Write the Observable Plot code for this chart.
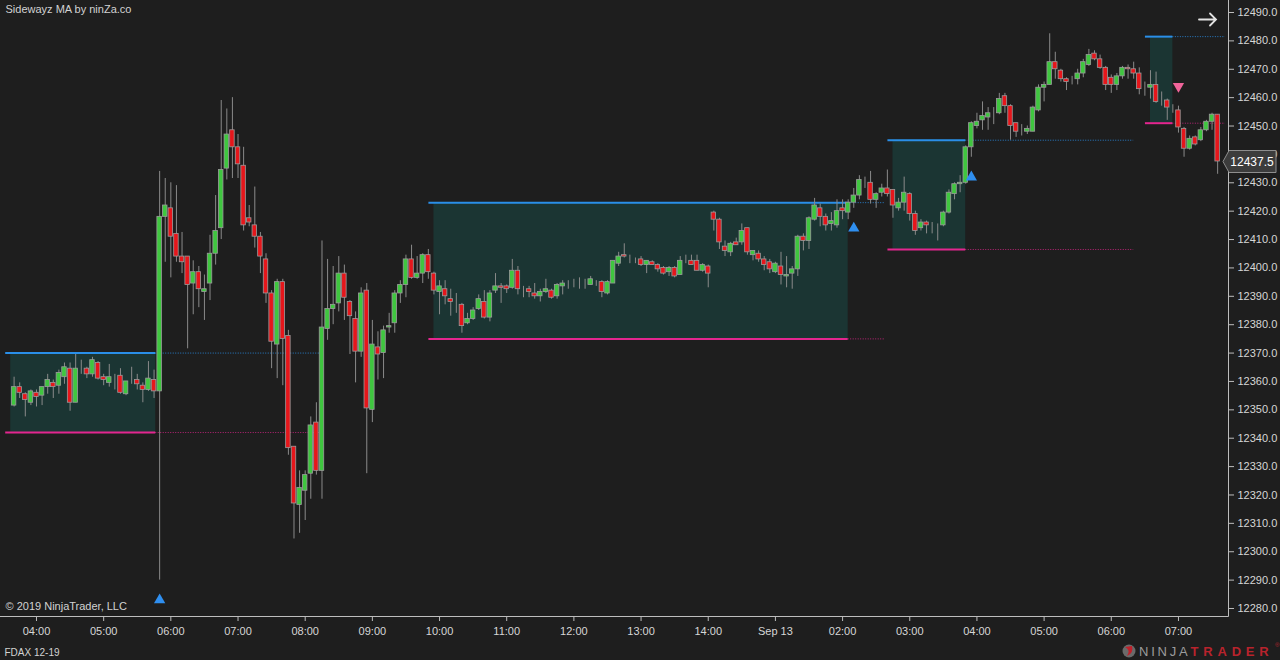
<!DOCTYPE html>
<html><head><meta charset="utf-8">
<script src="https://cdn.jsdelivr.net/npm/d3@7"></script>
<script src="https://cdn.jsdelivr.net/npm/@observablehq/plot@0.6"></script>
<style>
html,body{margin:0;padding:0;background:#1e1e1e;}
#chart{width:1280px;height:660px;}
</style>
</head><body><div id="chart"></div>
<script>
// 5-minute FDAX 12-19 bars (bar index 0..215)
const openP = [
12351.5,12358,12355.5,12352.5,12356,12355,12358,12359.5,12358.5,12361.5,
12364.5,12352.5,12364.5,12364.5,12362.5,12366.5,12361.5,12359.5,12362,12362,
12355.5,12360,12360.5,12358.5,12357,12360.5,12356.5,12418,12421,12412,
12404,12404,12394.5,12398.5,12391.5,12394.5,12405,12414,12435,12448.5,
12442.5,12436,12417.5,12415,12411,12403,12391,12373,12395,12376,
12337,12316.5,12321.5,12327.5,12345.5,12328.5,12378.5,12385.5,12387.5,12398,
12388,12382,12370.5,12392,12350,12372,12370,12379,12380.5,12391,
12394,12403,12396.5,12398,12404.5,12398,12391.5,12392.5,12389,12388,
12387,12380.5,12382,12385.5,12388,12382.5,12392,12393.5,12393.5,12393,
12399,12393,12392.5,12391,12390,12391.5,12392,12390,12393.5,12393.5,
12394.5,12395,12395,12394,12394.5,12395,12391,12394.5,12401.5,12404.5,
12404,12402.5,12403,12401,12402,12401,12400,12398.5,12400,12397.5,
12402,12402.5,12402.5,12399,12400.5,12419.5,12417,12407.5,12405.5,12409,
12409,12414,12404.5,12405,12403,12402,12398.5,12400.5,12397,12398,
12399.5,12411,12409.5,12417,12421,12418,12415.5,12415,12421,12419.5,
12423,12425.5,12430,12430,12424,12426.5,12428,12427.5,12421,12423,
12426,12419,12414,12416,12414.5,12415,12415,12419.5,12426,12429.5,
12430,12442.5,12450,12452,12453,12454.5,12454.5,12460.5,12457,12451,
12448.5,12448,12448,12455.5,12463.5,12464.5,12472.5,12469.5,12466.5,12466.5,
12466.5,12468.5,12471.5,12475.5,12473.5,12470.5,12467,12464.5,12467.5,12470.5,
12470,12468.5,12464,12463.5,12464.5,12458.5,12459,12456.5,12455.5,12449,
12442,12446,12445,12448.5,12451.5,12454];
const highP = [
12361.5,12359.5,12356,12357,12357,12358,12362.5,12360.5,12364,12366.5,
12366.5,12369.5,12367.5,12365,12368.5,12367,12362.5,12366,12362.5,12364.5,
12360,12365,12362.5,12359.5,12367,12364,12434,12431.5,12430,12429,
12412.5,12404,12402.5,12400.5,12397.5,12411.5,12425.5,12459,12456,12460,
12447,12442.5,12422,12428.5,12412.5,12405,12392,12396,12396,12378,
12337,12328.5,12328.5,12347.5,12352.5,12409.5,12403,12400.5,12404,12401,
12388.5,12384.5,12393,12394.5,12381.5,12377.5,12379.5,12384,12392,12395.5,
12404.5,12408,12404,12405,12406.5,12398.5,12395.5,12395.5,12392.5,12391,
12387.5,12384,12386,12390.5,12392,12392,12398,12394.5,12394,12403,
12400.5,12393.5,12393.5,12394.5,12392.5,12396,12392.5,12394.5,12395.5,12395.5,
12396,12396.5,12396,12397,12395.5,12395.5,12395.5,12402.5,12405.5,12408.5,
12404.5,12403.5,12404,12402.5,12402.5,12401.5,12400.5,12400.5,12400.5,12404,
12404.5,12404.5,12404.5,12401.5,12401,12420,12417.5,12409.5,12409,12410.5,
12415.5,12414,12406,12406,12404,12403,12402,12405.5,12404,12400.5,
12411.5,12412,12418,12424.5,12422.5,12419,12419.5,12424,12424,12424,
12428,12432.5,12432,12434,12426.5,12429.5,12434.5,12427.5,12424.5,12432,
12426.5,12420,12417,12416.5,12416,12415.5,12420,12427.5,12430,12432.5,
12443,12451.5,12454.5,12458.5,12456.5,12456.5,12461.5,12461.5,12457.5,12451,
12450.5,12450,12457,12464.5,12465.5,12482.5,12476,12470,12467,12467.5,
12470,12473.5,12477,12476.5,12475,12471,12468,12468.5,12471,12471.5,
12472.5,12470.5,12465.5,12469.5,12469,12462,12459.5,12457.5,12457,12449.5,
12446.5,12446.5,12449.5,12452,12454.5,12454];
const lowP = [
12351,12354,12347.5,12351.5,12351,12351.5,12355.5,12354,12355.5,12359,
12349.5,12352.5,12362.5,12361,12361.5,12360.5,12358.5,12358,12357,12355.5,
12355,12359,12357,12352.5,12356.5,12354,12290,12402,12396.5,12402,
12398,12371.5,12383.5,12386,12381.5,12388.5,12401,12410,12431,12431.5,
12431.5,12413,12414.5,12407,12398,12387.5,12364.5,12361,12358.5,12334,
12304.5,12306.5,12311,12318.5,12327,12318.5,12374.5,12380,12384.5,12381.5,
12369.5,12359.5,12368.5,12327.5,12345.5,12360.5,12361,12377,12377,12387.5,
12389.5,12396,12396,12394.5,12396,12390.5,12383.5,12387,12383,12384,
12377,12380,12381.5,12385,12382,12381,12391,12387.5,12391,12392.5,
12390.5,12389.5,12389.5,12389,12388,12391,12389,12389,12390.5,12392.5,
12393,12392.5,12392.5,12394,12393.5,12389.5,12390.5,12394.5,12400.5,12403.5,
12401.5,12401.5,12400.5,12398,12401,12398.5,12397.5,12397,12396.5,12397.5,
12401.5,12401,12399,12398.5,12393,12413,12406.5,12404,12404,12408,
12408,12404.5,12402.5,12402,12399,12398,12398,12394,12393,12392.5,
12397,12406,12406.5,12416.5,12414.5,12413,12413,12414,12417,12417,
12421,12424,12428,12422.5,12421,12425,12425,12417.5,12420,12420,
12416.5,12411.5,12413,12412,12412,12409.5,12414.5,12419,12424,12426.5,
12429.5,12439,12449,12448.5,12448.5,12450.5,12454,12454.5,12445,12446,
12446.5,12447,12448,12455,12458.5,12464.5,12466.5,12465.5,12462.5,12464.5,
12464.5,12467,12471,12473,12470,12462.5,12461.5,12462.5,12466.5,12466.5,
12466.5,12461,12460.5,12459.5,12458,12457,12452,12454.5,12447.5,12439,
12441.5,12443,12444.5,12448,12448.5,12433];
const closeP = [
12358,12356,12353.5,12356.5,12354.5,12358,12360.5,12358,12363,12365,
12352.5,12364.5,12364.5,12362.5,12367.5,12361,12360.5,12361.5,12362,12356,
12360,12360,12359,12357,12361,12356.5,12418,12422,12411,12404,
12402,12394,12398.5,12392.5,12392.5,12405,12413,12434.5,12447,12442.5,
12436.5,12415,12416,12411,12404,12391,12374,12395,12375,12336.5,
12317,12322.5,12327,12344.5,12328.5,12379,12385.5,12387,12398,12389.5,
12383,12370.5,12391,12350.5,12373,12369.5,12378,12379.5,12391,12394,
12403,12396.5,12398,12404.5,12398.5,12392,12393.5,12390,12388,12388,
12379.5,12382,12385,12389,12382.5,12391,12393.5,12393,12392.5,12399,
12392.5,12393,12391.5,12390,12391.5,12392.5,12389.5,12394,12394.5,12393.5,
12394.5,12395,12395,12396,12394.5,12391.5,12395,12402.5,12404,12404,
12404,12402.5,12401,12402.5,12401,12399.5,12398,12400,12397,12402.5,
12402,12401,12399,12401,12398,12417,12409,12406,12408.5,12408,
12413,12405.5,12406,12403,12401,12399.5,12401.5,12397.5,12397.5,12399.5,
12411,12409.5,12417.5,12422,12418,12415,12416.5,12420,12420,12423,
12425.5,12431,12430,12424,12426,12428,12426,12422,12423,12426.5,
12419,12413,12416,12415,12414.5,12415,12419.5,12426.5,12429.5,12430,
12442.5,12451,12451.5,12453.5,12454.5,12454.5,12459.5,12457,12450,12448,
12448.5,12449,12456.5,12463.5,12464.5,12472.5,12470,12466.5,12465.5,12466.5,
12468.5,12472.5,12475,12473.5,12470.5,12464.5,12464.5,12467.5,12470.5,12470,
12468.5,12463,12464,12464.5,12458.5,12458.5,12456.5,12456.5,12449.5,12442,
12445.5,12443.5,12448.5,12451.5,12454,12437.5];

// Sideways zones (bar index range, upper/lower levels, end of dotted extension)
const zoneStart = [-0.6, 75, 157, 203];
const zoneEnd   = [25.3, 149, 170, 207];
const zoneHigh  = [12370, 12423, 12445, 12481.5];
const zoneLow   = [12342, 12375, 12406.5, 12451];
const zoneExt   = [54.7, 155.7, 200, 216.4];

// Breakout signals
const sigIndex = [26, 150, 171, 208];
const sigPrice = [12283, 12414, 12432, 12464];
const sigDir   = ["up", "up", "up", "down"];

// Axis ticks
const xTickIndex  = [4,16,28,40,52,64,76,88,100,112,124,136,148,160,172,184,196,208];
const xTickLabels = ["04:00","05:00","06:00","07:00","08:00","09:00","10:00","11:00","12:00","13:00","14:00","Sep 13","02:00","03:00","04:00","05:00","06:00","07:00"];
const yTicks = d3.range(12280, 12491, 10);

const bars = openP.map((o, i) => ({i, o, h: highP[i], l: lowP[i], c: closeP[i]}));
const zones = zoneStart.map((s, k) => ({s, e: zoneEnd[k], hi: zoneHigh[k], lo: zoneLow[k], ext: zoneExt[k]}));
const signals = sigIndex.map((i, k) => ({i, p: sigPrice[k], dir: sigDir[k]}));
const xLabel = new Map(xTickIndex.map((t, k) => [t, xTickLabels[k]]));

const FONT = "Arial, 'Liberation Sans', Helvetica, sans-serif";
const BLUE = "#2a8fe8", PINK = "#e3268f";
const bodyFill = d => d.c > d.o ? "#3fc63f" : d.c < d.o ? "#e6161b" : "#a8a8a8";

const plot = Plot.plot({
  width: 1280, height: 660,
  marginLeft: 0, marginRight: 52, marginTop: 0, marginBottom: 44,
  style: {background: "#1e1e1e", color: "#d6d6d6", fontFamily: FONT, fontSize: "11px"},
  x: {domain: [-2.43, 216.94], axis: null},
  y: {domain: [12277.18, 12494.23], axis: null},
  marks: [
    Plot.rect(zones, {x1: "s", x2: "e", y1: "lo", y2: "hi", fill: "#1b3533"}),
    Plot.ruleY(zones, {x1: d => d.s - 0.9, x2: "e", y: "hi", stroke: BLUE, strokeWidth: 2}),
    Plot.ruleY(zones, {x1: d => d.s - 0.9, x2: "e", y: "lo", stroke: PINK, strokeWidth: 2}),
    Plot.ruleY(zones, {x1: "e", x2: "ext", y: "hi", stroke: BLUE, strokeWidth: 1, strokeDasharray: "1,1.5", strokeOpacity: 0.85}),
    Plot.ruleY(zones, {x1: "e", x2: "ext", y: "lo", stroke: PINK, strokeWidth: 1, strokeDasharray: "1,1.5", strokeOpacity: 0.8}),
    Plot.ruleX(bars, {x: "i", y1: "l", y2: "h", stroke: "#8a8a8a", strokeWidth: 1}),
    Plot.rect(bars, {x1: d => d.i - 0.4, x2: d => d.i + 0.4, y1: "o", y2: "c", fill: bodyFill, stroke: "#9c9c9c", strokeWidth: 0.8}),
    Plot.dot(signals, {x: "i", y: "p", symbol: "triangle", r: 4.2,
      fill: d => d.dir === "up" ? "#2f8ff0" : "#f0649a",
      rotate: d => d.dir === "up" ? 0 : 180}),
    Plot.axisY({anchor: "right", ticks: yTicks, tickFormat: d => d.toFixed(1), tickSize: 5, tickPadding: 4, stroke: "#bdbdbd", fill: "#d6d6d6"}),
    Plot.axisX({ticks: xTickIndex, tickFormat: d => xLabel.get(d), tickSize: 5, tickPadding: 6, stroke: "#bdbdbd", fill: "#d6d6d6"}),
    Plot.text(["Sidewayz MA by ninZa.co"], {frameAnchor: "top-left", dx: 5, dy: 5, fill: "#d2d2d2", fontSize: 11}),
    Plot.text(["© 2019 NinjaTrader, LLC"], {frameAnchor: "bottom-left", dx: 5, dy: -7, fill: "#d2d2d2", fontSize: 11}),
    Plot.text(["FDAX 12-19"], {frameAnchor: "bottom-left", dx: 4, dy: 39, fill: "#d2d2d2", fontSize: 10})
  ]
});

const svg = d3.select(plot);
const xs = plot.scale("x"), ys = plot.scale("y");
const xR = xs.range[1], yB = ys.range[0];
// axis lines
svg.append("line").attr("x1", xR + 0.5).attr("x2", xR + 0.5).attr("y1", 0).attr("y2", yB + 0.5).attr("stroke", "#bdbdbd");
svg.append("line").attr("x1", 0).attr("x2", xR + 0.5).attr("y1", yB + 0.5).attr("y2", yB + 0.5).attr("stroke", "#bdbdbd");

// "scroll to end" arrow at the top right
svg.append("path").attr("d", `M${xR - 29},19.5 L${xR - 12},19.5 M${xR - 18},13.5 L${xR - 12},19.5 L${xR - 18},25.5`)
  .attr("fill", "none").attr("stroke", "#e2e2e2").attr("stroke-width", 1.8).attr("stroke-linecap", "round");

// last price marker
const last = closeP[closeP.length - 1];
const py = Math.round(ys.apply(last)) + 0.5;
const mx = xR - 5;
svg.append("path")
  .attr("d", `M${mx},${py} L${mx + 6},${py - 11} L${1276},${py - 11} L${1276},${py + 11} L${mx + 6},${py + 11} Z`)
  .attr("fill", "#3c3c3c").attr("stroke", "#8e8e8e").attr("stroke-width", 1);
svg.append("text").attr("x", 1252).attr("y", py).attr("dy", "0.36em")
  .attr("text-anchor", "middle").attr("fill", "#ffffff").attr("font-family", FONT)
  .attr("font-size", 12).text(last.toFixed(1));

// NinjaTrader logo
const lg = svg.append("g").attr("transform", "translate(0,651)");
lg.append("circle").attr("cx", 1129).attr("cy", 0).attr("r", 6.5).attr("fill", "#6a6a6a");
lg.append("path").attr("d", "M1125,-4 Q1131,-1 1127,5 Q1134,2 1132,-5 Z").attr("fill", "#c0202a");
const lt = lg.append("text").attr("x", 1139).attr("y", 0).attr("dy", "0.36em")
  .attr("text-anchor", "start").attr("font-family", FONT).attr("font-size", 13);
lt.append("tspan").attr("fill", "#9c9c9c").attr("letter-spacing", 2.8).text("NINJA");
lt.append("tspan").attr("fill", "#b8232c").attr("letter-spacing", 4.8).attr("font-weight", "bold").text("TRADER");
lg.append("text").attr("x", 1275).attr("y", -4).attr("text-anchor", "start")
  .attr("font-family", FONT).attr("font-size", 6).attr("fill", "#b8232c").text("®");

document.getElementById("chart").appendChild(plot);
</script>
</body></html>
